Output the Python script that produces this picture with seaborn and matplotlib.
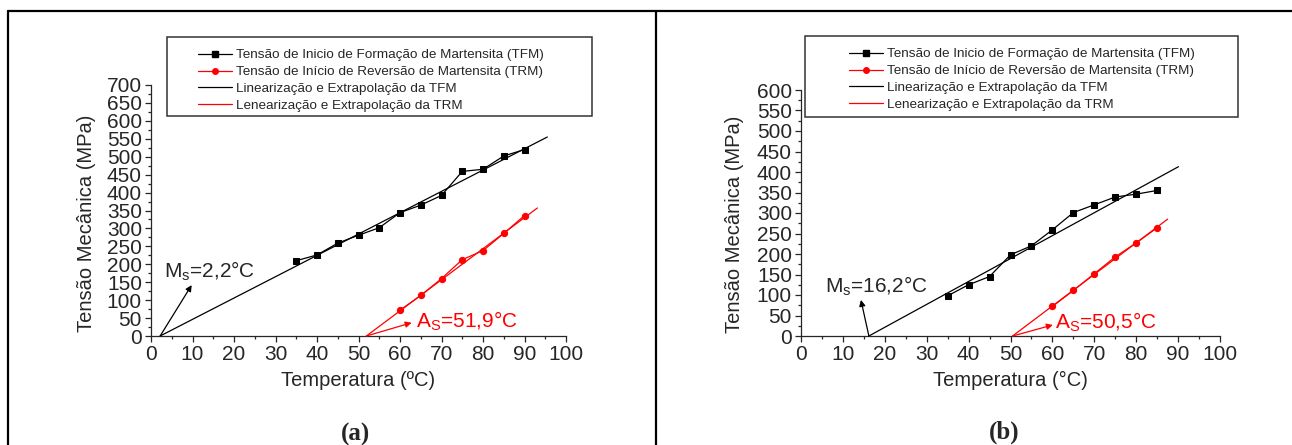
import numpy as np
import pandas as pd
import seaborn as sns
import matplotlib.pyplot as plt
from matplotlib.lines import Line2D
from matplotlib.patches import Rectangle
from matplotlib.ticker import MultipleLocator


# ---------------- data ----------------
# panel (a)
temp_tfm_a = [35, 40, 45, 50, 55, 60, 65, 70, 75, 80, 85, 90]
tfm_a = [210, 226, 259, 281, 302, 344, 365, 392, 459, 465, 502, 520]
temp_trm_a = [60, 65, 70, 75, 80, 85, 90]
trm_a = [72, 113, 160, 213, 238, 286, 336]
fit_tfm_a_x, fit_tfm_a_y = [2.2, 95.5], [0, 555]
fit_trm_a_x, fit_trm_a_y = [51.9, 93.1], [0, 357]

# panel (b)
temp_tfm_b = [35, 40, 45, 50, 55, 60, 65, 70, 75, 80, 85]
tfm_b = [98, 125, 145, 198, 220, 259, 301, 320, 339, 346, 355]
temp_trm_b = [60, 65, 70, 75, 80, 85]
trm_b = [72, 111, 152, 193, 227, 264]
fit_tfm_b_x, fit_tfm_b_y = [16.2, 90.1], [0, 413]
fit_trm_b_x, fit_trm_b_y = [50.5, 87.5], [0, 285]

legend_labels = [
    "Tensão de Inicio de Formação de Martensita (TFM)",
    "Tensão de Início de Reversão de Martensita (TRM)",
    "Linearização e Extrapolação da TFM",
    "Lenearização e Extrapolação da TRM",
]

sns.set_style("ticks")
plt.rcParams['font.family'] = ['Liberation Sans', 'DejaVu Sans']
plt.rcParams['mathtext.fontset'] = 'custom'
plt.rcParams['mathtext.rm'] = 'Liberation Sans'
plt.rcParams['mathtext.default'] = 'regular'

W, H = 1292, 445
fig = plt.figure(figsize=(W / 100, H / 100), dpi=100)


def px(x0, y0, x1, y1):
    # pixel box -> figure fraction [left, bottom, width, height]
    return [x0 / W, 1 - y1 / H, (x1 - x0) / W, (y1 - y0) / H]


def plot_panel(ax, t1, v1, t2, v2, fx1, fy1, fx2, fy2, ymax):
    df1 = pd.DataFrame({"T": t1, "s": v1})
    df2 = pd.DataFrame({"T": t2, "s": v2})
    sns.lineplot(data=df1, x="T", y="s", ax=ax, color="black", lw=0.9,
                 marker="s", markersize=4.5, markeredgecolor="black")
    sns.lineplot(data=df2, x="T", y="s", ax=ax, color="red", lw=0.9,
                 marker="o", markersize=4.5, markeredgecolor="red")
    ax.plot(fx1, fy1, color="black", lw=0.9, clip_on=False)
    ax.plot(fx2, fy2, color="red", lw=0.9, clip_on=False)

    ax.set_xlim(0, 100)
    ax.set_ylim(0, ymax)
    ax.xaxis.set_major_locator(MultipleLocator(10))
    ax.xaxis.set_minor_locator(MultipleLocator(5))
    ax.yaxis.set_major_locator(MultipleLocator(50))
    ax.yaxis.set_minor_locator(MultipleLocator(25))
    ax.tick_params(which="major", direction="out", length=4, width=0.9,
                   labelsize=15, pad=2.5)
    ax.tick_params(which="minor", direction="out", length=2.2, width=0.9)
    sns.despine(ax=ax)
    for sp in ax.spines.values():
        sp.set_linewidth(0.9)
    ax.set_xlabel("")
    ax.set_ylabel("")


def add_legend(box, hx, top):
    x0, y0, x1, y1 = box
    fig.add_artist(Rectangle((x0 / W, 1 - y1 / H), (x1 - x0) / W, (y1 - y0) / H,
                             transform=fig.transFigure, fill=False,
                             edgecolor="#333333", lw=1.1))
    handles = [
        Line2D([], [], color="black", lw=0.9, marker="s", markersize=4),
        Line2D([], [], color="red", lw=0.9, marker="o", markersize=4),
        Line2D([], [], color="black", lw=0.9),
        Line2D([], [], color="red", lw=0.9),
    ]
    fig.legend(handles, legend_labels, loc="upper left",
               bbox_to_anchor=(hx / W, 1 - top / H), frameon=False,
               fontsize=9.7, borderpad=0, borderaxespad=0, handlelength=2.5,
               handletextpad=0.3, labelspacing=0.33)


# ---------------- panel (a) ----------------
ax_a = fig.add_axes(px(151, 85, 566, 336))
plot_panel(ax_a, temp_tfm_a, tfm_a, temp_trm_a, trm_a,
           fit_tfm_a_x, fit_tfm_a_y, fit_trm_a_x, fit_trm_a_y, 700)
ax_a.annotate("", xy=(9.8, 142), xytext=(2.2, 0),
              arrowprops=dict(arrowstyle="-|>", color="black", lw=0.9,
                              mutation_scale=9, shrinkA=0, shrinkB=0))
ax_a.text(3.1, 162, r"M$_s$=2,2°C", fontsize=15, va="baseline")
ax_a.annotate("", xy=(62.8, 37), xytext=(51.9, 0),
              arrowprops=dict(arrowstyle="-|>", color="red", lw=0.9,
                              mutation_scale=9, shrinkA=0, shrinkB=0))
ax_a.text(63.9, 22, r"A$_S$=51,9°C", fontsize=15, va="baseline", color="red")
fig.text(358.5 / W, 1 - 380 / H, "Temperatura (ºC)", fontsize=14.5,
         ha="center", va="center")
fig.text(87 / W, 1 - 223 / H, "Tensão Mecânica (MPa)", fontsize=14.5,
         ha="center", va="center", rotation=90)
add_legend((167, 37, 592, 116), 198, 49)
fig.text(356 / W, 1 - 434 / H, "(a)", fontsize=18, fontweight="bold",
         family="Liberation Serif", ha="center", va="center")

# ---------------- panel (b) ----------------
ax_b = fig.add_axes(px(801, 90, 1220, 336))
plot_panel(ax_b, temp_tfm_b, tfm_b, temp_trm_b, trm_b,
           fit_tfm_b_x, fit_tfm_b_y, fit_trm_b_x, fit_trm_b_y, 600)
ax_b.annotate("", xy=(14.3, 88), xytext=(16.2, 0),
              arrowprops=dict(arrowstyle="-|>", color="black", lw=0.9,
                              mutation_scale=9, shrinkA=0, shrinkB=0))
ax_b.text(5.7, 105, r"M$_s$=16,2°C", fontsize=15, va="baseline")
ax_b.annotate("", xy=(60.1, 27), xytext=(50.5, 0),
              arrowprops=dict(arrowstyle="-|>", color="red", lw=0.9,
                              mutation_scale=9, shrinkA=0, shrinkB=0))
ax_b.text(60.6, 17, r"A$_S$=50,5°C", fontsize=15, va="baseline", color="red")
fig.text(1010.5 / W, 1 - 380 / H, "Temperatura (°C)", fontsize=14.5,
         ha="center", va="center")
fig.text(735 / W, 1 - 224 / H, "Tensão Mecânica (MPa)", fontsize=14.5,
         ha="center", va="center", rotation=90)
add_legend((805, 36, 1238, 117), 849, 48)
fig.text(1004 / W, 1 - 432 / H, "(b)", fontsize=18, fontweight="bold",
         family="Liberation Serif", ha="center", va="center")

# table-like frame around the two panels
for xs, ys in [([8, W], [11, 11]), ([8, 8], [11, H]), ([656, 656], [11, H])]:
    fig.add_artist(Line2D([x / W for x in xs], [1 - y / H for y in ys],
                          transform=fig.transFigure, color="black", lw=1.6))

fig.savefig("out.png", dpi=100)
